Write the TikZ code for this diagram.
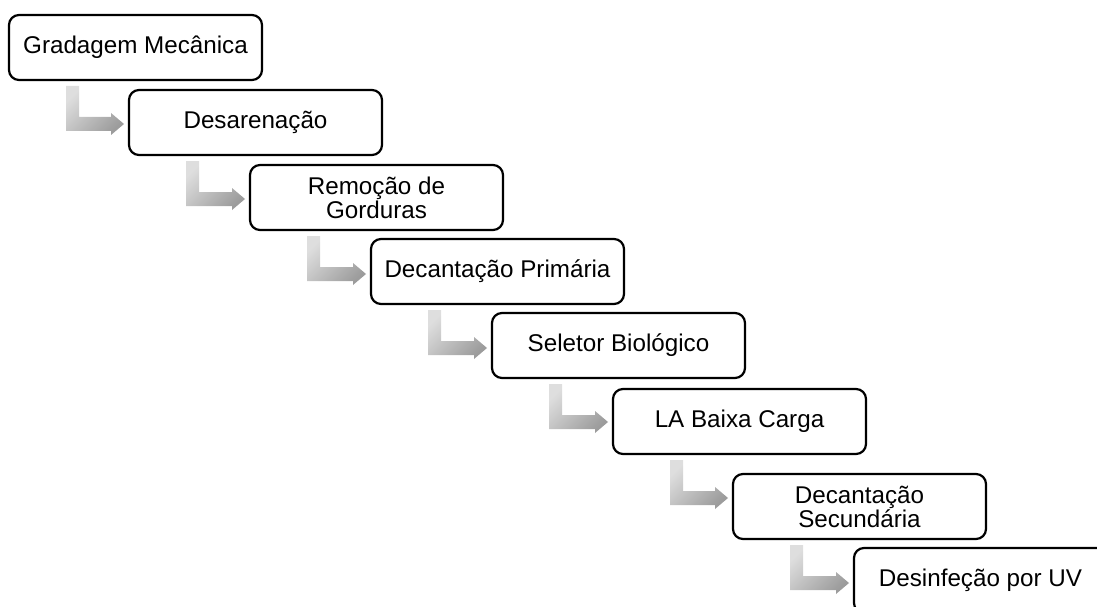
\documentclass[tikz,border=0pt]{standalone}
\usepackage{fontspec}
\setmainfont{Liberation Sans}
\usetikzlibrary{calc}
\definecolor{arrowlight}{HTML}{DEDEDE}
\definecolor{arrowdark}{HTML}{9C9C9C}
\begin{document}
\begin{tikzpicture}[x=1pt,y=-1pt,
  stepbox/.style={draw=black, line width=2.2pt, rounded corners=10pt, fill=white,
    minimum width=253pt, minimum height=65pt, inner sep=0pt, outer sep=0pt,
    anchor=north west, align=center, font=\fontsize{24.2}{24}\selectfont},
  arrowshade/.style={top color=arrowlight, bottom color=arrowdark, shading angle=45}]
\useasboundingbox (0,0) rectangle (1097,607);
\clip (0,0) rectangle (1097,607);
\node[stepbox] (b1) at (9,15)   {Gradagem Mecânica};
\node[stepbox] (b2) at (129,90) {Desarenação};
\node[stepbox] (b3) at (250,165) {Remoção de\\Gorduras};
\node[stepbox] (b4) at (371,239) {Decantação Primária};
\node[stepbox] (b5) at (492,313) {Seletor Biológico};
\node[stepbox] (b6) at (613,389) {LA Baixa Carga};
\node[stepbox] (b7) at (733,474) {Decantação\\Secundária};
\node[stepbox] (b8) at (854,548) {Desinfeção por UV};
\foreach \s/\t in {b1/b2,b2/b3,b3/b4,b4/b5,b5/b6,b6/b7,b7/b8}{
  \shade[arrowshade] let \p1=(\s.south west), \p2=(\t.west) in
    (\x1+57pt,\y1-6pt) -- (\x1+70pt,\y1-6pt) -- (\x1+70pt,\y1-37pt)
    -- (\x2-18pt,\y1-37pt) -- (\x2-18pt,\y1-33pt) -- (\x2-5pt,\y1-44pt)
    -- (\x2-18pt,\y1-55pt) -- (\x2-18pt,\y1-51pt) -- (\x1+57pt,\y1-51pt) -- cycle;
}
\end{tikzpicture}
\end{document}
